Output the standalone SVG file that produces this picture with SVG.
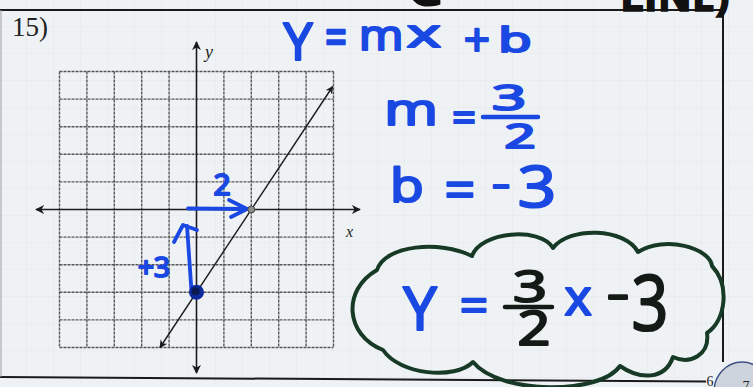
<svg xmlns="http://www.w3.org/2000/svg" width="753" height="387" viewBox="0 0 753 387">
<defs>
<style>
.grid{stroke:#555;stroke-width:1.4;fill:none;stroke-dasharray:3 1}
.axis{stroke:#1a1a1a;stroke-width:1.6;fill:none}
.hb{font-family:"Open Sans","Liberation Sans",sans-serif;fill:#1a48e2;stroke:#1a48e2;stroke-width:2.2;text-anchor:middle;stroke-linejoin:round}
.hk{font-family:"Open Sans","Liberation Sans",sans-serif;fill:#141a16;stroke:#141a16;stroke-width:2.2;text-anchor:middle;stroke-linejoin:round}
.blue{stroke:#1a48e2;stroke-width:3.8;fill:none;stroke-linecap:round;stroke-linejoin:round}
.serif{font-family:"Liberation Serif","Times New Roman",serif;fill:#222}
.paper{stroke:#dde2e7;stroke-width:1;fill:none}
</style>
<pattern id="pg" width="27" height="27" patternUnits="userSpaceOnUse">
<path d="M27,0 V27 M0,27 H27" class="paper"/>
</pattern>
<marker id="ah" viewBox="0 0 10 10" refX="9" refY="5" markerWidth="9" markerHeight="9" orient="auto-start-reverse" markerUnits="userSpaceOnUse">
<path d="M0,0 L10,5 L0,10 L3,5 z" fill="#1a1a1a"/>
</marker>
<marker id="ahs" viewBox="0 0 10 10" refX="9" refY="5" markerWidth="8" markerHeight="8" orient="auto-start-reverse" markerUnits="userSpaceOnUse">
<path d="M0,0 L10,5 L0,10 L3,5 z" fill="#1a1a1a"/>
</marker>
</defs>

<rect width="753" height="387" fill="#eff2f4"/>
<rect width="753" height="387" fill="url(#pg)" opacity="0.7"/>

<!-- page frame -->
<g id="frame" stroke="#1a1a1a" fill="none">
<path d="M0,10 H723 V362" stroke-width="2"/>
<path d="M0,377 L706,381.5" stroke-width="2"/>
<path d="M1,10 V377" stroke-width="1" stroke="#9aa0a6"/>
</g>

<!-- top cut-off marks -->
<g id="top-marks">
<text x="405" y="5" font-family="Open Sans, sans-serif" font-size="60" fill="#111" stroke="#111" stroke-width="2">C</text>
<text x="620" y="11" font-family="Open Sans, sans-serif" font-weight="700" font-size="42" fill="#111" stroke="#111" stroke-width="1.5">LINE)</text>
</g>

<!-- page corner -->
<g id="corner">
<ellipse cx="742" cy="392" rx="28" ry="30" fill="#cdd3dc" stroke="#3e4f86" stroke-width="1.5"/>
<text x="710" y="386" font-family="Liberation Serif, serif" font-size="14" fill="#222" text-anchor="middle">6</text>
<text x="746" y="391" font-family="Liberation Serif, serif" font-size="14" fill="#222" text-anchor="middle">7</text>
</g>

<g id="label-15">
<text class="serif" x="12" y="36" font-size="27">15)</text>
</g>

<!-- coordinate grid -->
<g id="grid">
<path class="grid" d="M59.5,71.5 V347.5 M86.9,71.5 V347.5 M114.3,71.5 V347.5 M141.7,71.5 V347.5 M169.1,71.5 V347.5 M223.9,71.5 V347.5 M251.3,71.5 V347.5 M278.7,71.5 V347.5 M306.1,71.5 V347.5 M333.5,71.5 V347.5"/>
<path class="grid" d="M59.5,71.5 H333.5 M59.5,99.1 H333.5 M59.5,126.7 H333.5 M59.5,154.3 H333.5 M59.5,181.9 H333.5 M59.5,237.1 H333.5 M59.5,264.7 H333.5 M59.5,292.3 H333.5 M59.5,319.9 H333.5 M59.5,347.5 H333.5"/>
</g>

<g id="axes">
<line class="axis" x1="36" y1="209.5" x2="360" y2="209.5" marker-start="url(#ah)" marker-end="url(#ah)"/>
<line class="axis" x1="196.5" y1="42" x2="196.5" y2="373" marker-start="url(#ah)" marker-end="url(#ah)"/>
<text class="serif" x="205" y="58" font-size="18" font-style="italic">y</text>
<text class="serif" x="346" y="237" font-size="16" font-style="italic">x</text>
</g>

<g id="connectors">
<line x1="160" y1="347.5" x2="332.7" y2="86.5" stroke="#1a1a1a" stroke-width="1.4" marker-start="url(#ahs)" marker-end="url(#ahs)"/>
<path class="blue" d="M188,208.5 L247,209"/>
<path class="blue" d="M229,200 L247,209 L231,217"/>
<path class="blue" d="M191.5,291 L187,226"/>
<path class="blue" d="M174,242 L183,225 L197,230"/>
</g>

<g id="points">
<circle cx="251.3" cy="209.5" r="3.5" fill="#8a8f8c" stroke="#444" stroke-width="1"/>
<circle cx="196.5" cy="292.3" r="7.5" fill="#0b2a9c"/>
<circle cx="195.5" cy="291.3" r="4" fill="#0a1a50"/>
</g>

<g id="slope-labels">
<text class="hb" x="222" y="195" font-size="30">2</text>
<text class="hb" x="154" y="277" font-size="28">+3</text>
</g>

<!-- equation y = mx + b -->
<g id="eq-general">
<text class="hb" x="298" y="60" font-size="52">Y</text>
<text class="hb" transform="translate(336,56) scale(0.8,1.1)" font-size="48">=</text>
<text class="hb" transform="translate(381,50) scale(1.15,1)" font-size="42">m</text>
<text class="hb" transform="translate(424,47) scale(1.7,1)" font-size="38">x</text>
<text class="hb" x="477" y="56" font-size="46">+</text>
<text class="hb" transform="translate(515,52) scale(1.6,1)" font-size="34">b</text>
</g>

<g id="eq-m">
<text class="hb" transform="translate(411,125) scale(1.35,1)" font-size="43">m</text>
<text class="hb" x="464" y="131.5" font-size="42">=</text>
<text class="hb" transform="translate(509,110) scale(1.7,1)" font-size="35">3</text>
<line x1="483" y1="117" x2="538" y2="117" stroke="#1a48e2" stroke-width="4.5" stroke-linecap="round"/>
<text class="hb" transform="translate(520,148) scale(1.7,1)" font-size="32">2</text>
</g>

<g id="eq-b">
<text class="hb" transform="translate(407,202) scale(1.2,1)" font-size="46">b</text>
<text class="hb" x="460" y="208.5" font-size="54">=</text>
<text class="hb" transform="translate(501,197) scale(1.4,1)" font-size="40">-</text>
<text class="hb" transform="translate(537,207) scale(1.2,1)" font-size="56">3</text>
</g>

<!-- answer cloud -->
<g id="answer">
<path d="M383,350 C345,335 342,290 377,270 C385,245 440,240 472,256 C480,232 540,226 553,248 C570,226 625,228 638,252 C665,235 710,248 712,266 C730,285 726,320 707,333 C710,355 690,365 673,357 C665,380 640,380 620,366 C600,395 500,395 473,362 C455,380 400,375 383,350 Z" fill="none" stroke="#173a26" stroke-width="4" stroke-linejoin="round"/>
<text class="hb" x="420" y="330" font-size="60">Y</text>
<text class="hb" x="474" y="322.5" font-size="50">=</text>
<text class="hk" transform="translate(530,302) scale(1.35,1)" font-size="44">3</text>
<line x1="505" y1="307" x2="552" y2="307" stroke="#141a16" stroke-width="4.5" stroke-linecap="round"/>
<text class="hk" transform="translate(534,345) scale(1.2,1)" font-size="48">2</text>
<text class="hb" x="578" y="315" font-size="52">x</text>
<text class="hk" transform="translate(618,311) scale(1.4,1)" font-size="50">-</text>
<text class="hk" transform="translate(650,330) scale(0.85,1)" font-size="76">3</text>
</g>
</svg>
